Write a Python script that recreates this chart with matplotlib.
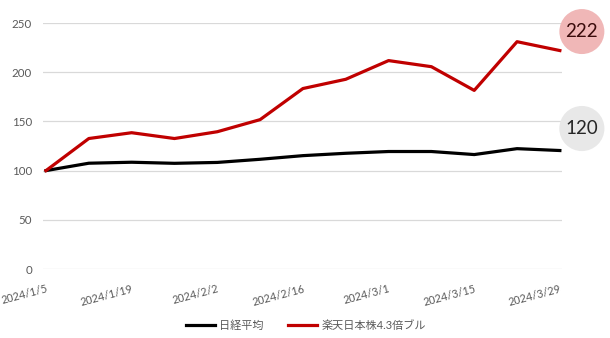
import matplotlib
matplotlib.use("Agg")
import matplotlib.pyplot as plt

# Data ---------------------------------------------------------------------

dates = ["2024/1/5", "2024/1/12", "2024/1/19", "2024/1/26", "2024/2/2",
         "2024/2/9", "2024/2/16", "2024/2/23", "2024/3/1", "2024/3/8",
         "2024/3/15", "2024/3/22", "2024/3/29"]
nikkei = [100, 107.5, 108.5, 107.4, 108.3, 111.5, 115.2, 117.6, 119.4, 119.4, 116.3, 122.3, 120.4]
bull43 = [100, 132.6, 138.5, 132.6, 139.5, 151.8, 183.4, 192.8, 211.8, 205.6, 181.5, 231.0, 222.0]
series_names = ["日経平均", "楽天日本株4.3倍ブル"]

# Plot ---------------------------------------------------------------------

plt.rcParams['font.family'] = ['Lato', 'Noto Sans CJK JP', 'DejaVu Sans']

fig = plt.figure(figsize=(6.1, 3.38), dpi=100)
ax = fig.add_axes([43 / 610, (338 - 269) / 338, (562 - 43) / 610, (269 - 23) / 338])

x = list(range(len(dates)))
ax.plot(x, nikkei, color='black', lw=2.3, label=series_names[0], solid_joinstyle='round')
ax.plot(x, bull43, color='#c00000', lw=2.3, label=series_names[1], solid_joinstyle='round')

ax.set_xlim(-0.07, 12.05)
ax.set_ylim(0, 250)
ax.set_yticks(range(0, 251, 50))
ax.grid(axis='y', color='#d9d9d9', lw=0.9)
ax.set_axisbelow(True)
for s in ax.spines.values():
    s.set_visible(False)

ax.set_xticks(x[::2])
ax.set_xticklabels(dates[::2], rotation=15, ha='right', va='top',
                   rotation_mode='anchor')
ax.tick_params(axis='x', length=0, pad=10, labelsize=7.8, labelcolor='#595959')
ax.tick_params(axis='y', length=0, pad=8, labelsize=8.3, labelcolor='#595959')

# end-of-line value bubbles
bubbles = [(bull43, '#f0b7b7', '#3a0c0c', 19), (nikkei, '#e8e8e8', '#262626', 22)]
for vals, face, tcol, dy in bubbles:
    ax.annotate(f"{vals[-1]:.0f}", xy=(x[-1], vals[-1]), xytext=(22, dy),
                textcoords='offset pixels', ha='center', va='center',
                fontsize=13.5, color=tcol, annotation_clip=False,
                bbox=dict(boxstyle='circle,pad=0.33', fc=face, ec='none'))

leg = fig.legend(loc='center', bbox_to_anchor=(306 / 610, 1 - 325 / 338), ncol=2,
                 frameon=False, fontsize=8, handlelength=2.6, columnspacing=2.2,
                 handletextpad=0.4)
for t in leg.get_texts():
    t.set_color('#595959')

fig.savefig("out.png", dpi=100)
